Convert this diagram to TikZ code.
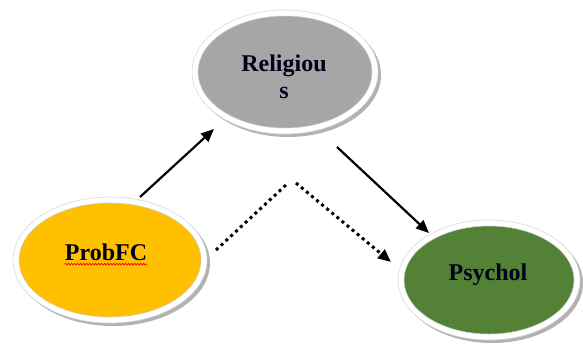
\documentclass[tikz,border=0pt]{standalone}
\usepackage{fontspec}
\setmainfont{Liberation Serif}
\usetikzlibrary{shapes.geometric,arrows.meta,decorations.pathmorphing}
\definecolor{relgrey}{HTML}{A6A6A6}
\definecolor{proborange}{HTML}{FFC000}
\definecolor{psygreen}{HTML}{538135}
\tikzset{
  shadowell/.style={ellipse, fill=black!30, draw=none, inner sep=0pt},
  rimell/.style={ellipse, fill=white, draw=black!15, line width=0.6pt, inner sep=0pt},
  coreell/.style={ellipse, draw=black!20, line width=0.5pt, inner sep=0pt},
  label/.style={font=\fontsize{24}{27}\selectfont\bfseries, inner sep=0pt, align=center, text=black!90!blue},
  solidarrow/.style={line width=2.2pt, -{Triangle[length=13pt,width=11pt]}},
  dotline/.style={line width=3pt, dash pattern=on 3pt off 3.6pt},
  dotarrow/.style={dotline, -{Triangle[length=13pt,width=11pt]}},
}
\begin{document}
\begin{tikzpicture}[x=1pt,y=-1pt]
\useasboundingbox (0,0) rectangle (583,346);
% Religious
\node[shadowell, minimum width=186pt, minimum height=124pt] (relS) at (288,75) {};
\node[rimell, minimum width=186pt, minimum height=124pt] (relR) at (285,72) {};
\node[coreell, fill=relgrey, minimum width=174pt, minimum height=112pt] (rel) at (285,72) {};
\node[label] (relT) at (284,66) {Religiou};
\node[label] (relT2) at (284,93) {s};
% ProbFC
\node[shadowell, minimum width=194pt, minimum height=126pt] (probS) at (113,263) {};
\node[rimell, minimum width=194pt, minimum height=126pt] (probR) at (110,260) {};
\node[coreell, fill=proborange, minimum width=182pt, minimum height=114pt] (prob) at (110,260) {};
\node[label] (probT) at (106,252) {ProbFC};
\draw[red, line width=0.7pt, decorate, decoration={snake, amplitude=0.9pt, segment length=3pt}]
  ([yshift=-3.5pt]probT.south west) -- ([yshift=-3.5pt]probT.south east);
% Psychol
\node[shadowell, minimum width=182pt, minimum height=120pt] (psyS) at (492,283) {};
\node[rimell, minimum width=182pt, minimum height=120pt] (psyR) at (489,280) {};
\node[coreell, fill=psygreen, minimum width=170pt, minimum height=108pt] (psy) at (489,280) {};
\node[label] (psyT) at (488,275) {Psychol};
% connector end points
\coordinate (a1s) at (140,197);
\coordinate (a1e) at (214,129);
\coordinate (a2s) at (337,147);
\coordinate (a2e) at (429,233);
\coordinate (d1s) at (216,250);
\coordinate (d1e) at (287,184);
\coordinate (d2s) at (296,183);
\coordinate (d2e) at (391,262);
\draw[solidarrow] (a1s) -- (a1e);
\draw[solidarrow] (a2s) -- (a2e);
\draw[dotline] (d1s) -- (d1e);
\draw[dotarrow] (d2s) -- (d2e);
\end{tikzpicture}
\end{document}
